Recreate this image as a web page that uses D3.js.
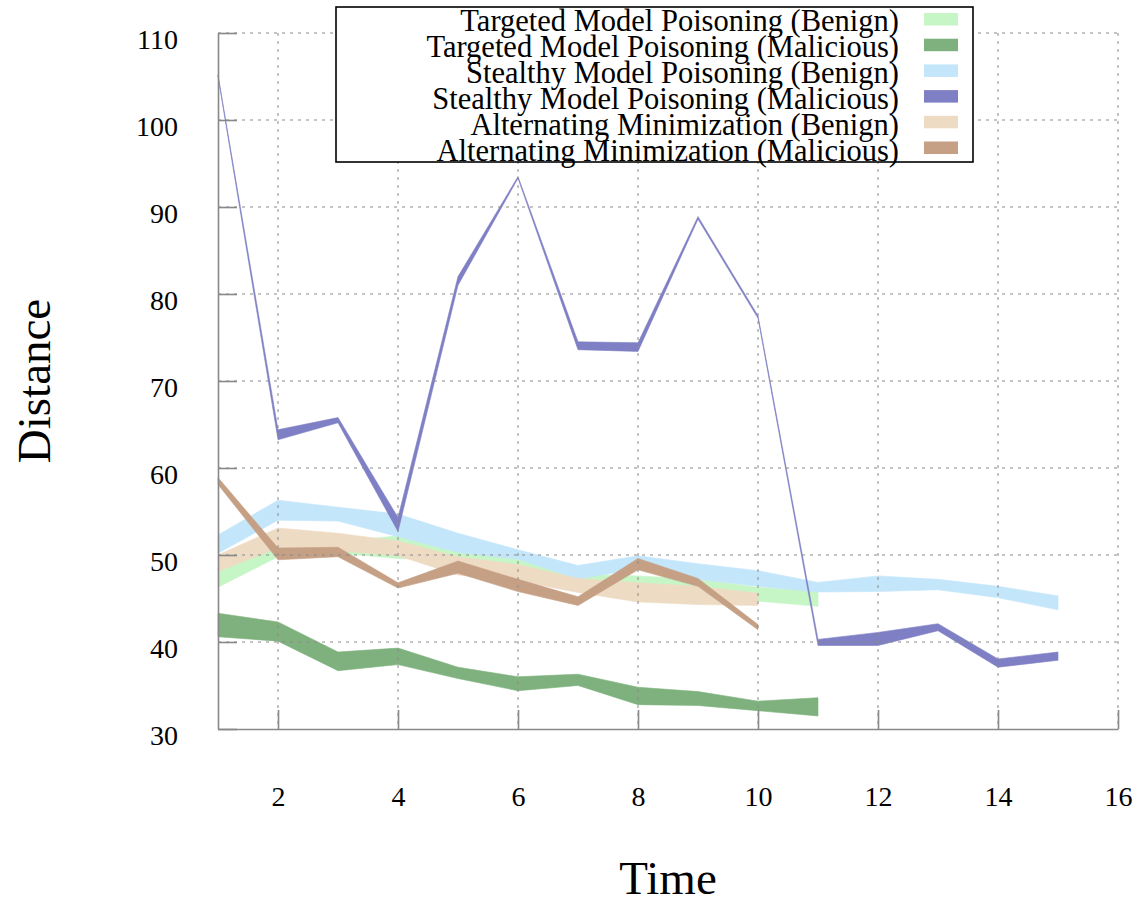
<!DOCTYPE html>
<meta charset="utf-8">
<script src="https://d3js.org/d3.v7.min.js"></script>
<style>
  body { margin: 0; background: #fff; }
  text { font-family: "Liberation Serif", "Times New Roman", serif; }
</style>
<div class="canvas"></div>
<script>
    const width = 1139
    const height = 905

    // values (low / high edge of each band)
    const time = [1, 2, 3, 4, 5, 6, 7, 8, 9, 10, 11, 12, 13, 14, 15]
    const tmpBenignLow  = [46.3, 49.8, 50.2, 49.6, 49.5, 48.7, 46.2, 46.6, 46.3, 44.7, 44.1]
    const tmpBenignHigh = [48.5, 51.0, 51.5, 52.2, 50.4, 49.6, 47.8, 47.6, 47.2, 46.3, 45.8]
    const tmpMalLow  = [40.6, 40.1, 36.7, 37.4, 35.8, 34.4, 35.0, 32.8, 32.7, 32.1, 31.5]
    const tmpMalHigh = [43.3, 42.3, 38.85, 39.3, 37.1, 36.0, 36.3, 34.8, 34.3, 33.2, 33.6]
    const smpBenignLow  = [50.2, 54.0, 53.9, 52.1, 50.3, 49.5, 47.25, 48.4, 47.2, 46.4, 45.75, 45.8, 46.0, 45.1, 43.7]
    const smpBenignHigh = [52.3, 56.3, 55.5, 54.7, 52.5, 50.6, 48.8, 49.9, 49.0, 48.2, 46.85, 47.6, 47.2, 46.4, 45.3]
    const smpMalLow  = [105.0, 63.25, 65.2, 52.7, 81.0, 93.3, 73.6, 73.4, 88.6, 77.2, 39.6, 39.6, 41.3, 37.1, 37.9]
    const smpMalHigh = [105.2, 64.4, 65.8, 54.3, 82.0, 93.5, 74.5, 74.4, 88.9, 77.5, 40.3, 41.1, 42.1, 38.05, 38.85]
    const amBenignLow  = [48.1, 50.8, 50.5, 49.9, 47.7, 47.0, 45.7, 44.6, 44.3, 44.2]
    const amBenignHigh = [50.0, 53.1, 52.5, 51.6, 49.8, 48.9, 47.3, 46.8, 46.4, 45.6]
    const amMalLow  = [58.1, 49.45, 49.8, 46.2, 47.9, 45.8, 44.2, 48.3, 46.4, 41.4]
    const amMalHigh = [58.9, 50.8, 50.9, 46.8, 49.3, 47.2, 45.2, 49.6, 47.3, 42.0]

    const seriesNames = [
        "Targeted Model Poisoning (Benign)",
        "Targeted Model Poisoning (Malicious)",
        "Stealthy Model Poisoning (Benign)",
        "Stealthy Model Poisoning (Malicious)",
        "Alternating Minimization (Benign)",
        "Alternating Minimization (Malicious)"
    ]
    const seriesLow = [tmpBenignLow, tmpMalLow, smpBenignLow, smpMalLow, amBenignLow, amMalLow]
    const seriesHigh = [tmpBenignHigh, tmpMalHigh, smpBenignHigh, smpMalHigh, amBenignHigh, amMalHigh]
    const colors = ["#c6f5c6", "#7eb17e", "#c4e6fa", "#7f7fc5", "#eedbc4", "#c6a085"]

    const xTicks = [2, 4, 6, 8, 10, 12, 14, 16]
    const yTicks = [30, 40, 50, 60, 70, 80, 90, 100, 110]

    const margin = {top: 33, right: 21, bottom: 176, left: 218}
    const graphWidth = width - margin.left - margin.right
    const graphHeight = height - margin.top - margin.bottom

    const svg = d3.select(".canvas")
                .append("svg")
                .attr("width", width)
                .attr("height", height)

    const graph = svg.append("g")
                    .attr("transform", `translate(${margin.left},${margin.top})`)

    const x = d3.scaleLinear().domain([1, 16]).range([0, graphWidth])
    const y = d3.scaleLinear().domain([30, 110]).range([graphHeight, 0])

    // bands
    seriesNames.forEach((name, i) => {
        const rows = seriesLow[i].map((lo, k) => ({t: time[k], lo: lo, hi: seriesHigh[i][k]}))
        const area = d3.area()
                    .x(d => x(d.t))
                    .y0(d => y(d.lo))
                    .y1(d => y(d.hi))
        graph.append("path")
            .datum(rows)
            .attr("d", area)
            .attr("fill", colors[i])
            .attr("stroke", colors[i])
            .attr("stroke-width", 0.6)
    })

    // grid in front of the bands
    const grid = graph.append("g")
    grid.selectAll("line.v").data(xTicks).enter()
        .append("line")
        .attr("x1", d => x(d)).attr("x2", d => x(d))
        .attr("y1", 0).attr("y2", graphHeight)
        .attr("stroke", "#8a8a8a").attr("stroke-width", 1)
        .attr("stroke-dasharray", "3,5")
    grid.selectAll("line.h").data(yTicks.filter(d => d > 30)).enter()
        .append("line")
        .attr("x1", 0).attr("x2", graphWidth)
        .attr("y1", d => y(d)).attr("y2", d => y(d))
        .attr("stroke", "#8a8a8a").attr("stroke-width", 1)
        .attr("stroke-dasharray", "3,5")

    // axes: ticks point inward
    const xAxis = d3.axisBottom(x).tickValues(xTicks).tickSizeInner(-19).tickSizeOuter(0).tickPadding(57)
    const yAxis = d3.axisLeft(y).tickValues(yTicks).tickSizeInner(-19).tickSizeOuter(0).tickPadding(40)

    const gXAxis = graph.append("g")
                    .attr("transform", `translate(0,${graphHeight})`)
                    .call(xAxis)
    const gYAxis = graph.append("g").call(yAxis)

    ;[gXAxis, gYAxis].forEach(g => {
        g.select(".domain").attr("stroke", "#888").attr("stroke-width", 1.6)
        g.selectAll(".tick line").attr("stroke", "#888").attr("stroke-width", 1.6)
        g.selectAll("text")
            .style("font-family", '"Liberation Serif", serif')
            .style("font-size", "28px")
            .attr("fill", "#000")
    })
    gYAxis.selectAll("text").attr("dy", "0.55em")

    // axis titles
    svg.append("text")
        .attr("x", margin.left + graphWidth / 2)
        .attr("y", 894)
        .attr("text-anchor", "middle")
        .style("font-size", "47px")
        .text("Time")

    svg.append("text")
        .attr("transform", `translate(50,${margin.top + graphHeight / 2}) rotate(-90)`)
        .attr("text-anchor", "middle")
        .style("font-size", "47px")
        .text("Distance")

    // legend
    const legend = svg.append("g")
    legend.append("rect")
        .attr("x", 336).attr("y", 7)
        .attr("width", 637).attr("height", 155)
        .attr("fill", "#fff")
        .attr("stroke", "#000").attr("stroke-width", 1.6)

    seriesNames.forEach((name, i) => {
        legend.append("text")
            .attr("x", 899)
            .attr("y", 31 + i * 26)
            .attr("text-anchor", "end")
            .style("font-size", "30.5px")
            .text(name)
        legend.append("rect")
            .attr("x", 924).attr("y", 13 + i * 25.7)
            .attr("width", 34).attr("height", 12.5)
            .attr("fill", colors[i])
    })
</script>
